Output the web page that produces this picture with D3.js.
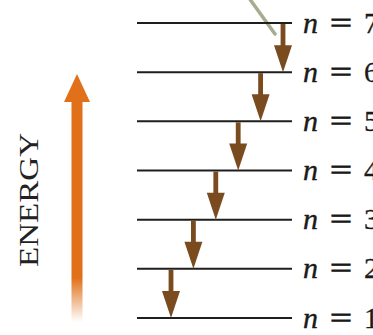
<!DOCTYPE html>
<html><head><meta charset="utf-8">
<script src="https://cdn.jsdelivr.net/npm/d3@7"></script>
<style>html,body{margin:0;padding:0;background:#fff;overflow:hidden}svg{display:block}</style>
</head><body>
<svg id="c" width="373" height="335"></svg>
<script>
// Energy levels (principal quantum number) and cascade transitions
const levels = [1, 2, 3, 4, 5, 6, 7];
const transitionsFrom = [7, 6, 5, 4, 3, 2];   // each drops to n-1
const levelLabelPrefix = "n";
const axisLabel = "ENERGY";

const svg = d3.select("#c");

const y = d3.scaleLinear().domain([1, 7]).range([318, 23]);
const xStep = d3.scaleLinear().domain([7, 2]).range([283, 171]);
const lineX0 = 137, lineX1 = 292;

const defs = svg.append("defs");
const grad = defs.append("linearGradient").attr("id", "fade")
  .attr("x1", 0).attr("y1", 0).attr("x2", 0).attr("y2", 1);
grad.append("stop").attr("offset", "0").attr("stop-color", "#e0701a").attr("stop-opacity", 1);
grad.append("stop").attr("offset", "0.8").attr("stop-color", "#e0701a").attr("stop-opacity", 1);
grad.append("stop").attr("offset", "1").attr("stop-color", "#e0701a").attr("stop-opacity", 0);

// Energy arrow (orange)
const ax = 77, tipY = 74, headBase = 102, headHW = 13, shaftHW = 5.5, shaftBottom = 322;
svg.append("rect").attr("x", ax - shaftHW).attr("y", headBase - 1)
  .attr("width", shaftHW * 2).attr("height", shaftBottom - headBase + 1)
  .attr("fill", "url(#fade)");
svg.append("path")
  .attr("d", `M${ax},${tipY} L${ax + headHW},${headBase} L${ax - headHW},${headBase} Z`)
  .attr("fill", "#e0701a");

// ENERGY label
svg.append("text")
  .attr("transform", `translate(38,200) rotate(-90)`)
  .attr("text-anchor", "middle")
  .attr("font-family", "Liberation Serif, Times New Roman, serif")
  .attr("font-size", 28)
  .attr("textLength", 134)
  .attr("lengthAdjust", "spacingAndGlyphs")
  .attr("fill", "#222")
  .text(axisLabel);

// Incoming photon/particle line (grey-green)
svg.append("line").attr("x1", 249).attr("y1", -2).attr("x2", 275).attr("y2", 34)
  .attr("stroke", "#a6ad8e").attr("stroke-width", 3.5).attr("stroke-linecap", "round");

// Level lines
svg.selectAll("line.level").data(levels).join("line").attr("class", "level")
  .attr("x1", lineX0).attr("x2", lineX1)
  .attr("y1", d => y(d)).attr("y2", d => y(d))
  .attr("stroke", "#1e1e1e").attr("stroke-width", 2);

// Labels
const lab = svg.selectAll("g.lab").data(levels).join("g").attr("class", "lab")
  .attr("transform", d => `translate(0,${y(d) + 9.5})`);
lab.append("text").attr("x", 303).attr("y", 0)
  .attr("font-family", "Liberation Serif, serif").attr("font-style", "italic")
  .attr("font-size", 30).attr("fill", "#1a1a1a")
  .attr("stroke", "#1a1a1a").attr("stroke-width", 0.4).text(levelLabelPrefix);
lab.append("text").attr("x", 330).attr("y", -1)
  .attr("font-family", "Liberation Serif, serif")
  .attr("font-size", 28).attr("fill", "#1a1a1a")
  .attr("stroke", "#1a1a1a").attr("stroke-width", 0.8)
  .attr("textLength", 22).attr("lengthAdjust", "spacingAndGlyphs").text("=");
lab.append("text").attr("x", 364).attr("y", 0)
  .attr("font-family", "Liberation Serif, serif")
  .attr("font-size", 29).attr("fill", "#1a1a1a")
  .attr("stroke", "#1a1a1a").attr("stroke-width", 0.3).text(d => d);

// Cascade arrows (brown)
const brown = "#7a4b1f";
const hLen = 27, hHW = 9, sHW = 2.4;
const arr = svg.selectAll("g.arr").data(transitionsFrom).join("g").attr("class", "arr");
arr.append("rect")
  .attr("x", d => xStep(d) - sHW).attr("y", d => y(d) + 1)
  .attr("width", sHW * 2).attr("height", d => (y(d - 1) - hLen) - y(d))
  .attr("fill", brown);
arr.append("path")
  .attr("d", d => {
    const x = xStep(d), t = y(d - 1), b = t - hLen;
    return `M${x},${t} L${x + hHW},${b} L${x - hHW},${b} Z`;
  })
  .attr("fill", brown);
</script>
</body></html>
